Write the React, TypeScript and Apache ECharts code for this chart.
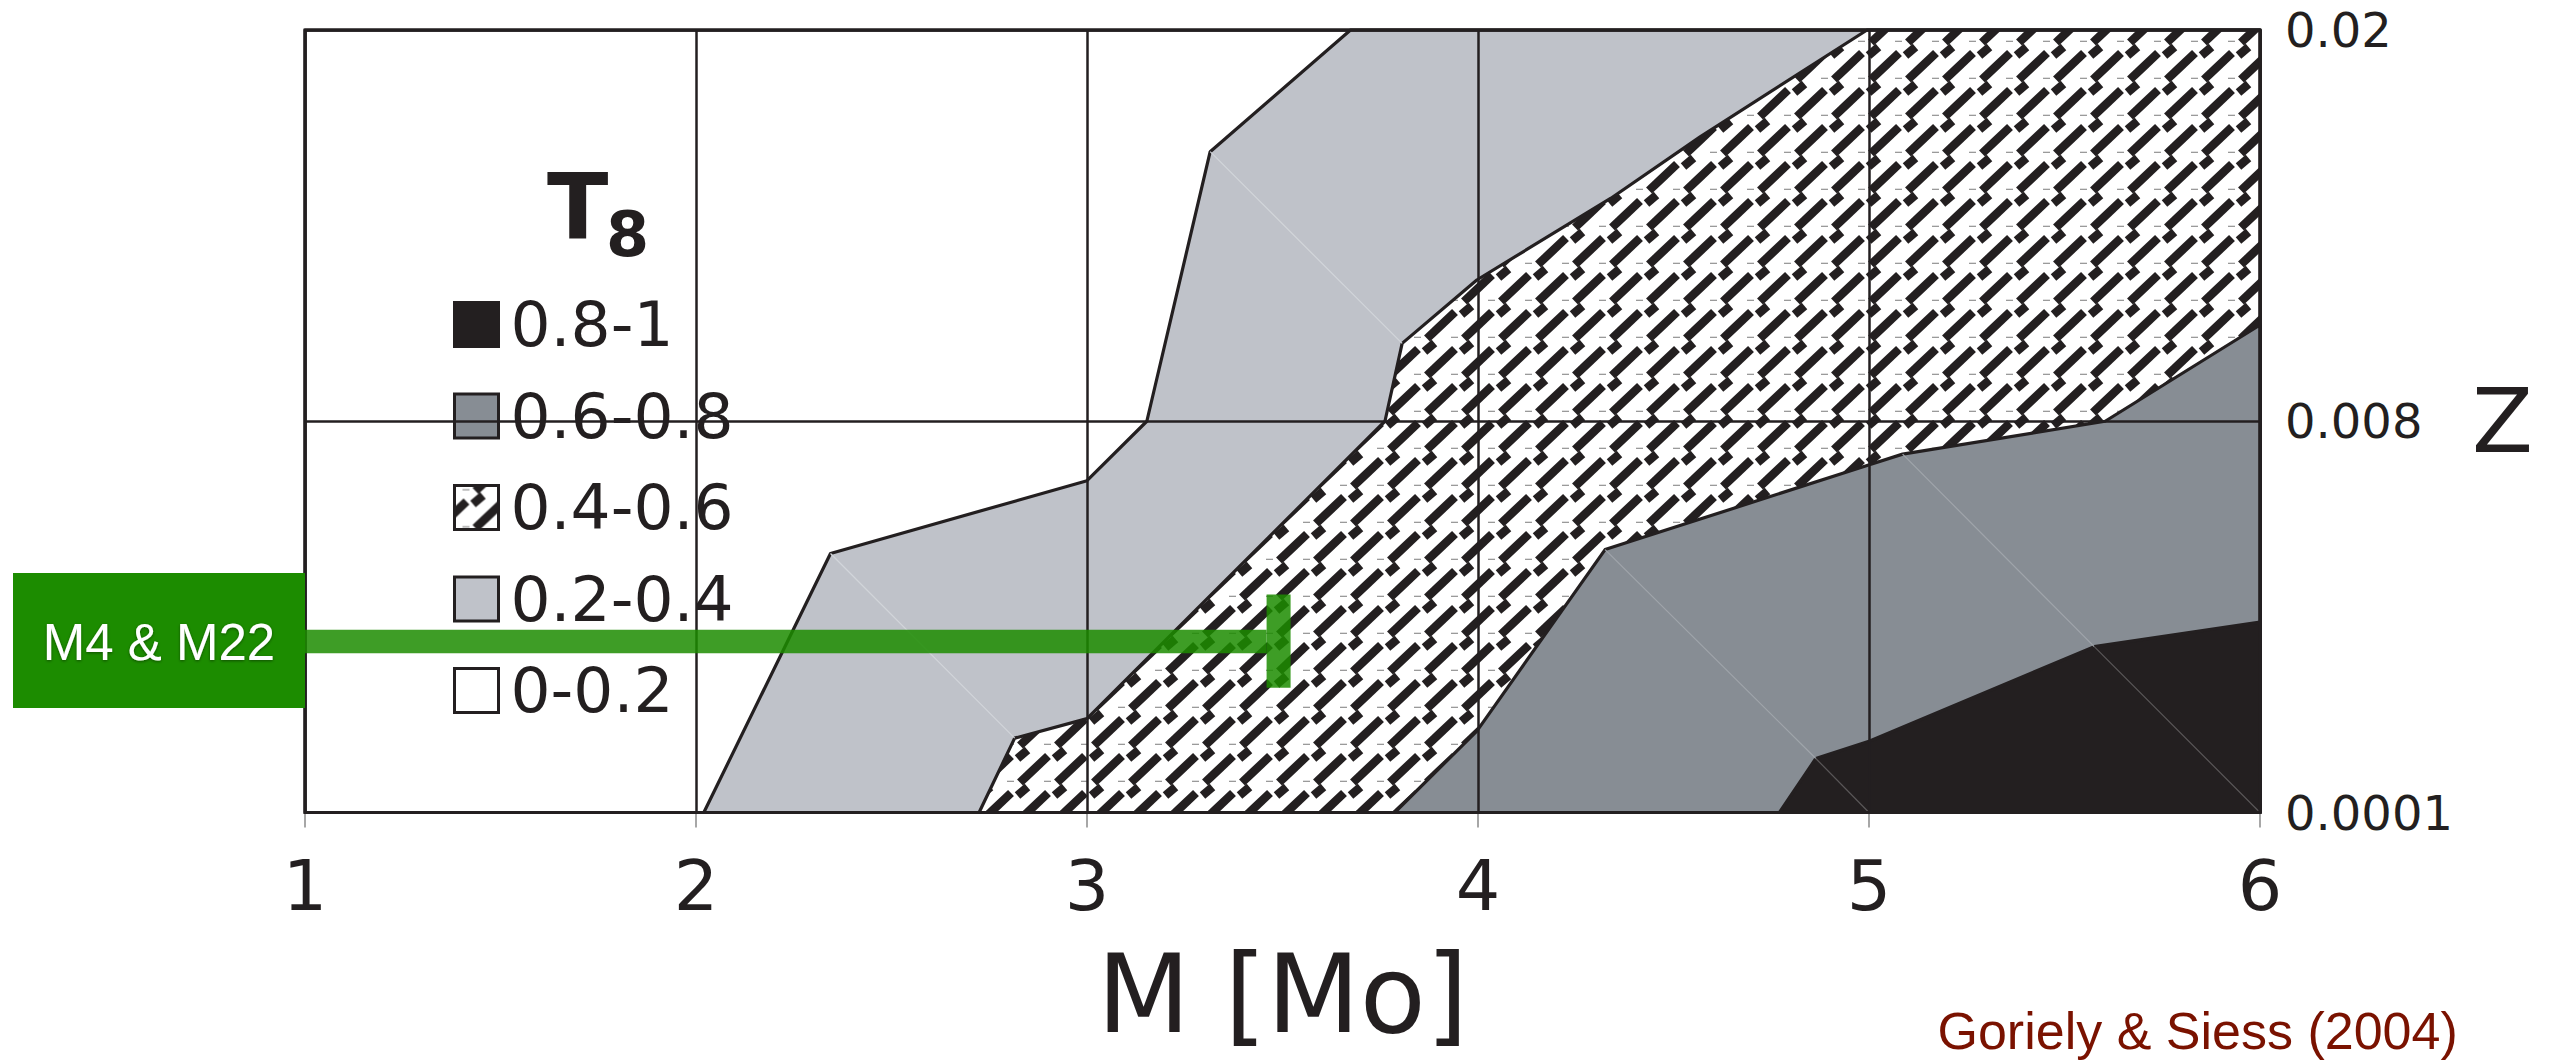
import React, { useEffect, useRef } from 'react';
import * as echarts from 'echarts';

// ---------- data ----------
const massTicks = [1, 2, 3, 4, 5, 6];
const zTickLabels = ['0.0001', '0.008', '0.02'];
const bandNames = ['0.8-1', '0.6-0.8', '0.4-0.6', '0.2-0.4', '0-0.2'];

// contour boundaries, points are [M, Z tick index]
const edge02 = [[2.02, 0], [2.344, 0.662], [3.0, 0.848], [3.153, 1.0], [3.315, 1.689], [3.674, 2]];
const edge04 = [[2.724, 0], [2.815, 0.19], [3.0, 0.24], [3.762, 1.0], [3.806, 1.199], [3.997, 1.361], [4.34, 1.57], [4.568, 1.727], [4.995, 2]];
const edge06 = [[3.787, 0], [3.997, 0.208], [4.325, 0.672], [4.995, 0.887], [5.086, 0.916], [5.604, 1.0], [6, 1.246]];
const edge08 = [[4.771, 0], [4.864, 0.138], [5.002, 0.183], [5.576, 0.424], [6, 0.487]];

// faint mesh lines of the surface: [M1, z1, M2, z2, band]
const meshLines = [
  [3.315, 1.689, 3.806, 1.199, 3],
  [2.344, 0.662, 2.815, 0.19, 3],
  [4.325, 0.672, 4.864, 0.138, 1],
  [5.086, 0.916, 5.576, 0.424, 1],
  [4.864, 0.138, 5.0, 0, 0],
  [5.576, 0.424, 6, 0, 0],
];

// model track: [M end, Z index, Z low, Z high]
const markerTrack = [[3.49, 0.437, 0.319, 0.557]];
const markerLabel = 'M4 & M22';
const creditText = 'Goriely & Siess (2004)';

const INK = '#231f20';

function makeHatch(): string {
  const s = 37;
  const c = document.createElement('canvas');
  c.width = s;
  c.height = s;
  const ctx = c.getContext('2d') as CanvasRenderingContext2D;
  ctx.fillStyle = '#ffffff';
  ctx.fillRect(0, 0, s, s);
  for (const ox of [-s, 0, s]) {
    for (const oy of [-s, 0, s]) {
      ctx.strokeStyle = INK;
      ctx.lineCap = 'butt';
      ctx.lineWidth = 8.5;
      ctx.beginPath();
      ctx.moveTo(21 + ox, 42.5 + oy);
      ctx.lineTo(49 + ox, 16 + oy);
      ctx.stroke();
      ctx.beginPath();
      ctx.moveTo(18.5 + ox, 18.5 + oy);
      ctx.lineTo(28.5 + ox, 10 + oy);
      ctx.stroke();
      ctx.fillStyle = '#9a9a9a';
      ctx.fillRect(8 + ox, 3.7 + oy, 7, 1.3);
    }
  }
  return c.toDataURL();
}

export default function App() {
  const ref = useRef<HTMLDivElement>(null);

  useEffect(() => {
    if (!ref.current) return;
    const chart = echarts.init(ref.current, null, { renderer: 'svg' });
    const hatch = { image: makeHatch(), repeat: 'repeat', imageWidth: 37, imageHeight: 37 };

    const bandFill: Record<string, any> = {
      '0.8-1': INK,
      '0.6-0.8': '#878d94',
      '0.4-0.6': hatch,
      '0.2-0.4': '#bfc2c9',
      '0-0.2': '#ffffff',
    };
    const bandPoly: Record<string, number[][]> = {
      '0-0.2': [[1, 0], [6, 0], [6, 2], [1, 2]],
      '0.2-0.4': [...edge02, [6, 2], [6, 0]],
      '0.4-0.6': [...edge04, [6, 2], [6, 0]],
      '0.6-0.8': [...edge06, [6, 0]],
      '0.8-1': [...edge08, [6, 0]],
    };
    const drawOrder = ['0-0.2', '0.2-0.4', '0.4-0.6', '0.6-0.8', '0.8-1'];
    const meshColors = ['#5a5758', '#a0a5ab', '#cfd1d6', '#d2d5da'];

    const bandSeries = drawOrder.map((name) => ({
      type: 'custom',
      name,
      coordinateSystem: 'cartesian2d',
      silent: true,
      z: 2,
      data: [[1, 0]],
      encode: { x: 0, y: 1 },
      renderItem: (_p: any, api: any) => ({
        type: 'polygon',
        shape: { points: bandPoly[name].map((pt) => api.coord(pt)) },
        style: { fill: bandFill[name], stroke: INK, lineWidth: 3.2, lineJoin: 'round' },
      }),
    }));

    const option: any = {
      animation: false,
      backgroundColor: '#ffffff',
      grid: {
        left: 305,
        right: 298,
        top: 30,
        bottom: 249.5,
        show: true,
        backgroundColor: 'transparent',
        borderColor: INK,
        borderWidth: 3,
        z: 11,
      },
      xAxis: {
        type: 'value',
        min: massTicks[0],
        max: massTicks[massTicks.length - 1],
        interval: 1,
        z: 10,
        axisLine: { show: false },
        axisTick: { show: true, length: 15, lineStyle: { color: '#8a8a8a', width: 1.5 } },
        axisLabel: { margin: 38, fontSize: 70, fontFamily: 'DejaVu Sans', color: INK },
        splitLine: { show: true, lineStyle: { color: INK, width: 2.5 } },
        name: 'M [Mo]',
        nameLocation: 'middle',
        nameGap: 128,
        nameTextStyle: { fontSize: 108, fontFamily: 'DejaVu Sans', color: INK },
      },
      yAxis: {
        type: 'value',
        min: 0,
        max: zTickLabels.length - 1,
        interval: 1,
        position: 'right',
        z: 10,
        axisLine: { show: false },
        axisTick: { show: false },
        axisLabel: {
          margin: 25,
          fontSize: 48,
          fontFamily: 'DejaVu Sans',
          color: INK,
          formatter: (v: number) => zTickLabels[Math.round(v)],
        },
        splitLine: { show: true, lineStyle: { color: INK, width: 2.5 } },
        name: 'Z',
        nameLocation: 'middle',
        nameRotate: 0,
        nameGap: 212,
        nameTextStyle: { fontSize: 89, fontFamily: 'DejaVu Sans', color: INK },
      },
      legend: {
        orient: 'vertical',
        left: 453,
        top: 293,
        padding: 0,
        itemWidth: 44,
        itemHeight: 44,
        itemGap: 28.5,
        selectedMode: false,
        z: 4,
        textStyle: {
          fontFamily: 'DejaVu Sans',
          fontSize: 63,
          color: INK,
          lineHeight: 44,
          padding: [0, 0, 0, 7],
        },
        data: bandNames.map((n) => ({
          name: n,
          icon: 'rect',
          itemStyle: { color: bandFill[n], borderColor: INK, borderWidth: 3 },
        })),
      },
      graphic: [
        {
          type: 'text', x: 547, y: 206, z: 4,
          style: { text: 'T', fontSize: 90, fontWeight: 'bold', fontFamily: 'DejaVu Sans', fill: INK, align: 'left', verticalAlign: 'middle' },
        },
        {
          type: 'text', x: 606, y: 234, z: 4,
          style: { text: '8', fontSize: 62, fontWeight: 'bold', fontFamily: 'DejaVu Sans', fill: INK, align: 'left', verticalAlign: 'middle' },
        },
        {
          type: 'rect', z: 20,
          shape: { x: 13, y: 573, width: 292, height: 135 },
          style: { fill: '#1c8c00' },
        },
        {
          type: 'text', x: 159, y: 642.5, z: 21,
          style: {
            text: markerLabel, fontSize: 51, fontFamily: 'Liberation Sans', fill: '#ffffff',
            align: 'center', verticalAlign: 'middle',
            textShadowColor: 'rgba(0,0,0,0.45)', textShadowBlur: 3, textShadowOffsetY: 1,
          },
        },
        {
          type: 'text', x: 1937.5, y: 1031, z: 21,
          style: { text: creditText, fontSize: 52, fontFamily: 'Liberation Sans', fill: '#7a1200', align: 'left', verticalAlign: 'middle' },
        },
      ],
      series: [
        ...bandSeries,
        {
          type: 'custom',
          name: 'mesh',
          coordinateSystem: 'cartesian2d',
          silent: true,
          z: 3,
          data: meshLines,
          encode: { x: 0, y: 1 },
          renderItem: (_p: any, api: any) => {
            const a = api.coord([api.value(0), api.value(1)]);
            const b = api.coord([api.value(2), api.value(3)]);
            return {
              type: 'line',
              shape: { x1: a[0], y1: a[1], x2: b[0], y2: b[1] },
              style: { stroke: meshColors[api.value(4)], lineWidth: 1.2 },
            };
          },
        },
        {
          type: 'custom',
          name: markerLabel,
          coordinateSystem: 'cartesian2d',
          silent: true,
          z: 12,
          data: markerTrack,
          encode: { x: 0, y: 1 },
          renderItem: (_p: any, api: any) => {
            const end = api.coord([api.value(0), api.value(1)]);
            const start = api.coord([massTicks[0], api.value(1)]);
            const lo = api.coord([api.value(0), api.value(2)]);
            const hi = api.coord([api.value(0), api.value(3)]);
            const capW = 24;
            const barH = 23.5;
            const fill = 'rgba(28,140,0,0.85)';
            return {
              type: 'group',
              children: [
                { type: 'rect', shape: { x: start[0], y: end[1] - barH / 2, width: end[0] - capW / 2 - start[0], height: barH }, style: { fill } },
                { type: 'rect', shape: { x: end[0] - capW / 2, y: hi[1], width: capW, height: lo[1] - hi[1] }, style: { fill } },
              ],
            };
          },
        },
      ],
    };

    chart.setOption(option);
    return () => chart.dispose();
  }, []);

  return (
    <div
      ref={ref}
      style={{ position: 'fixed', left: 0, top: 0, width: 2558, height: 1062, background: '#fff' }}
    />
  );
}
